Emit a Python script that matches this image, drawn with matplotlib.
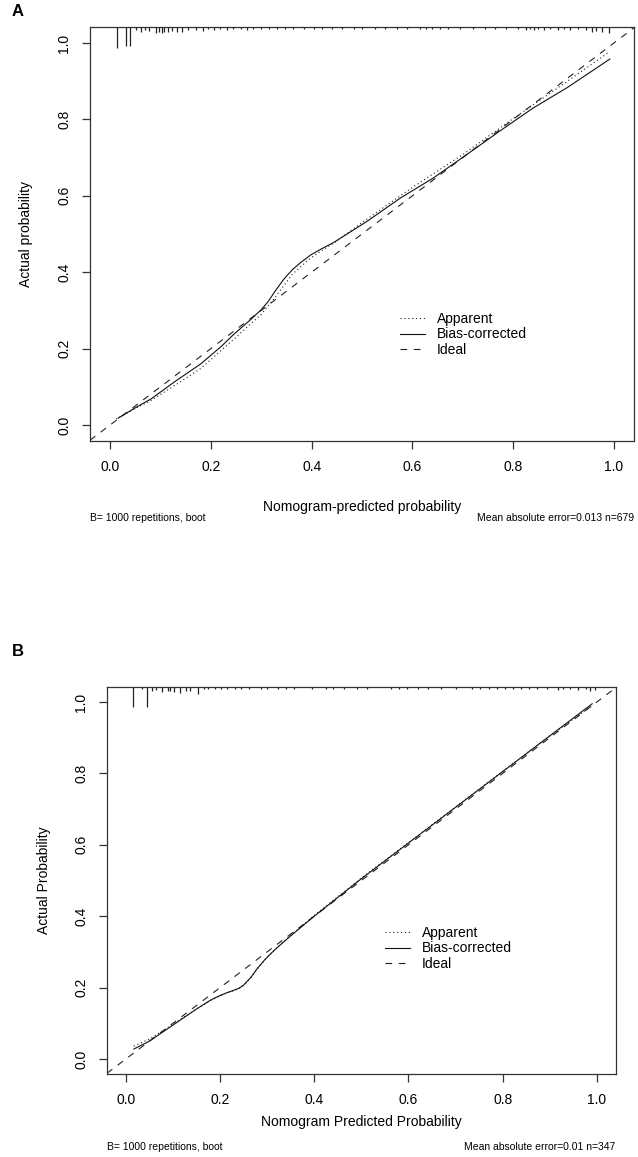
import matplotlib
matplotlib.use("Agg")
from matplotlib import pyplot as plt
from matplotlib.lines import Line2D

plt.rcParams['font.family'] = ['Liberation Sans', 'DejaVu Sans']

# ---- panel A data ----
a_bias_x = [0.016, 0.05, 0.081, 0.13, 0.18, 0.22, 0.246, 0.279, 0.3, 0.313, 0.33, 0.345, 0.362,
            0.378, 0.398, 0.418, 0.444, 0.511, 0.576, 0.642, 0.709, 0.774, 0.84, 0.907, 0.992]
a_bias_y = [0.018, 0.045, 0.068, 0.115, 0.16, 0.205, 0.238, 0.276, 0.302, 0.322, 0.355, 0.382,
            0.407, 0.425, 0.445, 0.46, 0.478, 0.534, 0.594, 0.647, 0.709, 0.77, 0.83, 0.883, 0.958]
a_app_x = [0.012, 0.05, 0.081, 0.13, 0.18, 0.246, 0.3, 0.325, 0.345, 0.362, 0.378, 0.398, 0.418,
           0.444, 0.5, 0.6, 0.7, 0.8, 0.9, 0.988]
a_app_y = [0.016, 0.043, 0.064, 0.105, 0.148, 0.225, 0.29, 0.33, 0.365, 0.395, 0.414, 0.437, 0.455,
           0.476, 0.53, 0.622, 0.708, 0.802, 0.893, 0.974]
a_rug_x = [0.014, 0.031, 0.040, 0.051, 0.062, 0.070, 0.078, 0.092, 0.097, 0.103, 0.107, 0.115,
           0.123, 0.132, 0.143, 0.155, 0.17, 0.184, 0.195, 0.207, 0.219, 0.231, 0.243, 0.259,
           0.271, 0.283, 0.3, 0.316, 0.332, 0.348, 0.364, 0.384, 0.404, 0.42, 0.44, 0.46,
           0.485, 0.5, 0.525, 0.545, 0.57, 0.59, 0.615, 0.627, 0.639, 0.655, 0.671, 0.695,
           0.72, 0.744, 0.765, 0.785, 0.809, 0.825, 0.833, 0.841, 0.849, 0.861, 0.873, 0.889,
           0.901, 0.913, 0.929, 0.945, 0.957, 0.965, 0.977, 0.99]
a_rug_len = [0.055, 0.05, 0.05, 0.008, 0.012, 0.008, 0.01, 0.016, 0.014, 0.016, 0.012, 0.014,
             0.01, 0.012, 0.014, 0.008, 0.008, 0.01, 0.006, 0.008, 0.006, 0.008, 0.006, 0.006,
             0.008, 0.006, 0.005, 0.006, 0.005, 0.006, 0.005, 0.005, 0.006, 0.005, 0.006, 0.005,
             0.005, 0.006, 0.005, 0.005, 0.006, 0.005, 0.006, 0.005, 0.005, 0.006, 0.005, 0.006,
             0.005, 0.006, 0.005, 0.006, 0.006, 0.008, 0.006, 0.008, 0.006, 0.008, 0.006, 0.008,
             0.006, 0.008, 0.006, 0.008, 0.012, 0.01, 0.014, 0.016]

# ---- panel B data ----
b_bias_x = [0.017, 0.05, 0.1, 0.15, 0.18, 0.2, 0.215, 0.23, 0.24, 0.25, 0.265, 0.28, 0.295, 0.31,
            0.33, 0.35, 0.4, 0.5, 0.6, 0.7, 0.8, 0.9, 0.99]
b_bias_y = [0.028, 0.05, 0.095, 0.14, 0.165, 0.178, 0.186, 0.193, 0.198, 0.207, 0.228, 0.255,
            0.278, 0.298, 0.322, 0.345, 0.4, 0.505, 0.605, 0.705, 0.805, 0.905, 0.995]
b_app_x = [0.017, 0.05, 0.1, 0.15, 0.18, 0.2, 0.215, 0.23, 0.24, 0.25, 0.265, 0.28, 0.295, 0.31,
           0.33, 0.35, 0.4, 0.5, 0.6, 0.7, 0.8, 0.9, 0.99]
b_app_y = [0.036, 0.056, 0.097, 0.14, 0.164, 0.177, 0.185, 0.192, 0.197, 0.206, 0.227, 0.254,
           0.278, 0.299, 0.323, 0.346, 0.402, 0.507, 0.606, 0.706, 0.806, 0.905, 0.99]
b_rug_x = [0.015, 0.044, 0.035, 0.056, 0.063, 0.076, 0.089, 0.093, 0.102, 0.115, 0.128, 0.136,
           0.153, 0.165, 0.175, 0.19, 0.201, 0.215, 0.231, 0.245, 0.261, 0.287, 0.3, 0.322,
           0.34, 0.356, 0.395, 0.425, 0.44, 0.464, 0.49, 0.511, 0.563, 0.58, 0.597, 0.62,
           0.641, 0.67, 0.701, 0.735, 0.752, 0.77, 0.787, 0.804, 0.822, 0.839, 0.856, 0.873,
           0.895, 0.917, 0.928, 0.942, 0.96, 0.977, 0.986, 0.995]
b_rug_len = [0.056, 0.056, 0.006, 0.012, 0.008, 0.014, 0.01, 0.012, 0.014, 0.016, 0.01, 0.012,
             0.02, 0.006, 0.006, 0.005, 0.006, 0.005, 0.006, 0.005, 0.006, 0.005, 0.005, 0.006,
             0.005, 0.006, 0.005, 0.006, 0.005, 0.005, 0.006, 0.005, 0.006, 0.005, 0.006, 0.005,
             0.005, 0.006, 0.005, 0.006, 0.005, 0.006, 0.005, 0.006, 0.006, 0.005, 0.006, 0.005,
             0.006, 0.008, 0.005, 0.006, 0.008, 0.006, 0.01, 0.008]

ticks = [0.0, 0.2, 0.4, 0.6, 0.8, 1.0]
tick_labels = ['0.0', '0.2', '0.4', '0.6', '0.8', '1.0']

W, H = 638, 1157
fig = plt.figure(figsize=(W / 100, H / 100), dpi=100)

ax_a = fig.add_axes([90 / W, 1 - 441 / H, 544 / W, 414 / H])
ax_b = fig.add_axes([107 / W, 1 - 1074 / H, 508.7 / W, 387 / H])

dash = (0, (6, 6))
dot = (0, (1, 2.5))
lw = 0.8
edge = '#333333'


def draw_panel(ax, bx, by, apx, apy, rx, rl, xlab, ylab, err_txt, ylab_x, xlab_y, foot_y, leg_xy):
    ax.set_xlim(-0.04, 1.04)
    ax.set_ylim(-0.042, 1.042)
    ax.axline((0, 0), (1, 1), color='#222222', lw=lw, linestyle=dash)
    ax.plot(apx, apy, color='#222222', lw=lw, linestyle=dot)
    ax.plot(bx, by, color='#111111', lw=lw)
    top = ax.get_ylim()[1]
    ax.vlines(rx, [top - l for l in rl], top, color='#222222', lw=0.9)

    ax.set_xticks(ticks)
    ax.set_xticklabels(tick_labels)
    ax.set_yticks(ticks)
    ax.set_yticklabels(tick_labels, rotation=90, va='center')
    ax.tick_params(direction='out', length=5.5, width=0.9, color=edge, labelsize=10, pad=8)
    for s in ax.spines.values():
        s.set_color(edge)
        s.set_linewidth(0.9)

    ax.set_xlabel(xlab, fontsize=10)
    ax.set_ylabel(ylab, fontsize=10)
    ax.yaxis.set_label_coords(ylab_x, 0.5)
    ax.xaxis.set_label_coords(0.5, xlab_y)

    ax.text(0, foot_y, 'B= 1000 repetitions, boot', transform=ax.transAxes,
            fontsize=7.5, ha='left', va='center')
    ax.text(1, foot_y, err_txt, transform=ax.transAxes, fontsize=7.5, ha='right', va='center')

    handles = [Line2D([], [], color='#222222', lw=lw, linestyle=dot),
               Line2D([], [], color='#111111', lw=lw),
               Line2D([], [], color='#222222', lw=lw, linestyle=dash)]
    ax.legend(handles, ['Apparent', 'Bias-corrected', 'Ideal'], loc='upper left',
              bbox_to_anchor=leg_xy, bbox_transform=fig.transFigure, frameon=False,
              fontsize=10, handlelength=1.8, handletextpad=0.85, labelspacing=0.1,
              borderpad=0, borderaxespad=0)


draw_panel(ax_a, a_bias_x, a_bias_y, a_app_x, a_app_y, a_rug_x, a_rug_len,
           'Nomogram-predicted probability', 'Actual probability',
           'Mean absolute error=0.013 n=679', -0.105, -0.1425, -0.186,
           (400 / W, 1 - 312 / H))
draw_panel(ax_b, b_bias_x, b_bias_y, b_app_x, b_app_y, b_rug_x, b_rug_len,
           'Nomogram Predicted Probability', 'Actual Probability',
           'Mean absolute error=0.01 n=347', -0.11, -0.106, -0.189,
           (385 / W, 1 - 926 / H))

fig.text(12 / W, 1 - 12 / H, 'A', fontsize=12, fontweight='bold', va='center', ha='left')
fig.text(12 / W, 1 - 651 / H, 'B', fontsize=12, fontweight='bold', va='center', ha='left')

fig.savefig('out.png', dpi=100)
